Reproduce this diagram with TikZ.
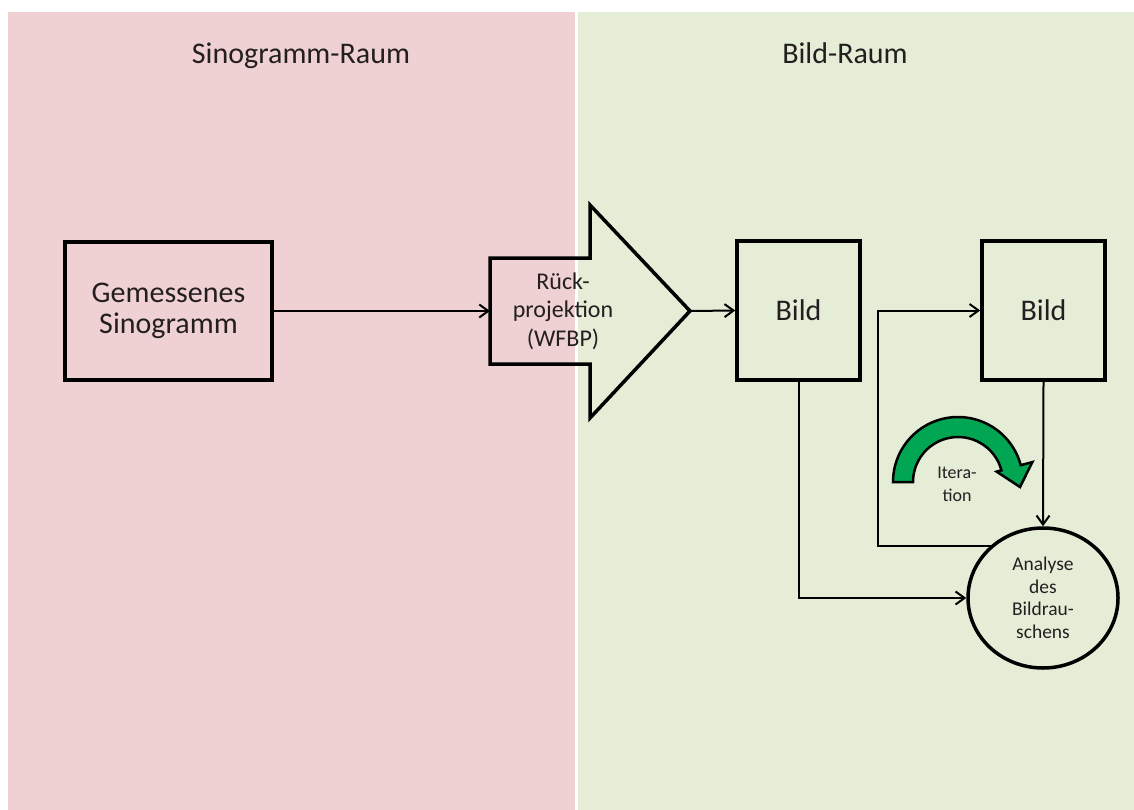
\documentclass[tikz,border=0pt]{standalone}
\usepackage{fontspec}
\setmainfont{Carlito}
\usetikzlibrary{arrows.meta,shapes.geometric,calc}
\definecolor{pinkbg}{HTML}{EFD1D3}
\definecolor{greenbg}{HTML}{E5EDD6}
\definecolor{txt}{HTML}{231F20}
\definecolor{itergreen}{HTML}{00A651}
\tikzset{
  box/.style={draw=black,line width=3.5pt,rectangle,inner sep=0pt,align=center,text=txt,font=\fontsize{30}{31}\selectfont},
  conn/.style={draw=black,line width=2pt,-{Straight Barb[length=9pt,width=13pt,line width=2pt]}},
  title/.style={text=txt,font=\fontsize{30}{31}\selectfont,anchor=base,inner sep=0pt},
}
\begin{document}
\begin{tikzpicture}[x=1pt,y=-1pt]
\useasboundingbox (0,0) rectangle (1134,810);
\fill[white] (0,0) rectangle (1134,810);
\fill[pinkbg] (8,12) rectangle (575,810);
\fill[greenbg] (578,12) rectangle (1134,810);
\node[title] (t1) at (301,64) {Sinogramm-Raum};
\node[title] (t2) at (845,64) {Bild-Raum};
% boxes
\node[box,minimum width=207pt,minimum height=138pt] (sino) at (168.5,311) {Gemessenes\\Sinogramm};
\node[box,minimum width=123pt,minimum height=139pt] (bild1) at (798.5,310.5) {Bild};
\node[box,minimum width=123pt,minimum height=139pt] (bild2) at (1043.5,310.5) {Bild};
\node[draw=black,line width=3.5pt,ellipse,minimum width=150pt,minimum height=140pt,inner sep=0pt,align=center,text=txt,font=\fontsize{19.5}{22.5}\selectfont] (ana) at (1043,598) {Analyse\\des\\Bildrau-\\schens};
% block arrow
\coordinate (bl) at (490,311);
\coordinate (tip) at (690,311);
\draw[black,line width=3.5pt,line join=miter] (490,258) -- (590,258) -- (590,205) -- (tip) -- (590,418) -- (590,364) -- (490,364) -- cycle;
\node[text=txt,align=center,font=\fontsize{24}{28.5}\selectfont] (rp) at (563,311) {Rück-\\projektion\\(WFBP)};
% connectors
\draw[conn] (sino.east) -- (bl);
\draw[conn] (tip) -- (bild1.west);
\draw[conn] (bild2.south) -- (ana.north);
\draw[conn] (bild1.south) |- (ana.west);
\coordinate (fb) at (878,400);
\draw[conn] (ana.135) -- (ana.135 -| fb) |- (bild2.west);
% iteration arrow
\coordinate (c) at (958,482);
\draw[fill=itergreen,draw=black,line width=2.5pt,line join=miter]
  ($(c)+(180:65)$) arc[start angle=180,end angle=345,radius=65]
  -- ($(c)+(345:77)$) -- (1020,487) -- ($(c)+(345:40)$)
  -- ($(c)+(345:45)$) arc[start angle=345,end angle=180,radius=45] -- cycle;
\node[text=txt,align=center,font=\fontsize{18}{23}\selectfont] (it) at (957,484) {Itera-\\tion};
\end{tikzpicture}
\end{document}
